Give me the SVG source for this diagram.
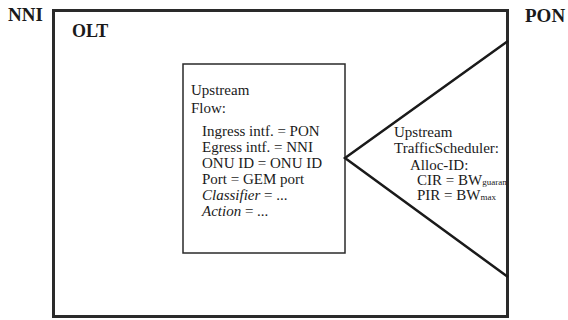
<svg xmlns="http://www.w3.org/2000/svg" width="568" height="320" viewBox="0 0 568 320">
<style>
.t{font-family:"Liberation Serif","Times New Roman",serif;font-size:15px;fill:#1a1a1a}
.b{font-family:"Liberation Serif","Times New Roman",serif;font-weight:bold;fill:#1a1a1a}
.s{font-size:9px}
.box{fill:none;stroke:#2a2a2a}
.ln{fill:none;stroke:#1a1a1a;stroke-width:2.5}
</style>
<rect width="568" height="320" fill="#fff"/>
<g id="label-nni"><text class="b" x="8" y="21" font-size="19">NNI</text></g>
<g id="label-pon"><text class="b" x="525" y="22" font-size="19">PON</text></g>
<g id="olt">
<rect class="box" x="53.5" y="10.5" width="454" height="306" stroke-width="3"/>
<text class="b" x="72" y="37" font-size="18">OLT</text>
</g>
<g id="upstream-flow">
<rect class="box" x="183" y="64" width="162" height="189" stroke-width="1.5"/>
<text class="t" x="191" y="95">Upstream</text>
<text class="t" x="191" y="113">Flow:</text>
<text class="t" x="202" y="136">Ingress intf. =  PON</text>
<text class="t" x="202" y="152">Egress intf. = NNI</text>
<text class="t" x="202" y="168">ONU ID = ONU ID</text>
<text class="t" x="202" y="184">Port = GEM port</text>
<text class="t" x="202" y="200"><tspan font-style="italic">Classifier</tspan> = ...</text>
<text class="t" x="202" y="216"><tspan font-style="italic">Action</tspan> = ...</text>
</g>
<g id="connectors">
<polyline class="ln" points="508,41 345,158 508,277"/>
</g>
<g id="traffic-scheduler">
<text class="t" x="394" y="137">Upstream</text>
<text class="t" x="394" y="153">TrafficScheduler:</text>
<text class="t" x="410" y="170">Alloc-ID:</text>
<text class="t" x="417" y="185">CIR = BW<tspan class="s">guaran</tspan></text>
<text class="t" x="417" y="200">PIR = BW<tspan class="s">max</tspan></text>
</g>
</svg>
